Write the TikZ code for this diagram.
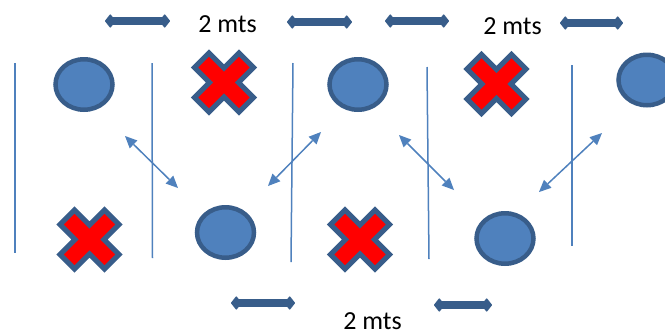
\documentclass[tikz,border=0pt]{standalone}
\usepackage{fontspec}
\setmainfont{Carlito}
\usetikzlibrary{arrows.meta,shapes.geometric}
\definecolor{cfill}{HTML}{4F81BD}
\definecolor{cdark}{HTML}{385D8A}
\definecolor{cred}{HTML}{FF0000}
\tikzset{
  disc/.style={ellipse,draw=cdark,fill=cfill,line width=4.5pt,minimum width=57pt,minimum height=50.5pt,inner sep=0pt},
  xstyle/.style={draw=cdark,fill=cred,line width=5pt,line join=miter},
  xmark/.pic={\path[xstyle] (0,-14.5) -- (15,-29.5) -- (29.5,-15) -- (14.5,0) -- (29.5,15) -- (15,29.5) -- (0,14.5) -- (-15,29.5) -- (-29.5,15) -- (-14.5,0) -- (-29.5,-15) -- (-15,-29.5) -- cycle;},
  bartip/.tip={Diamond[length=11pt,width=14pt,line width=1.5pt,round]},
  bar/.style={draw=cdark,line width=8pt,bartip-bartip},
  link/.style={draw=cfill,line width=1.5pt,{Triangle[length=12pt,width=11pt,line width=0pt]}-{Triangle[length=12pt,width=11pt,line width=0pt]}},
  divider/.style={draw=cfill,line width=1.5pt},
  lbl/.style={font=\fontsize{26}{31}\selectfont,anchor=base,inner sep=0pt}
}
\begin{document}
\begin{tikzpicture}[x=1pt,y=-1pt]
\useasboundingbox (0,0) rectangle (665,333);
\clip (0,0) rectangle (665,333);
% dividers
\coordinate (v1t) at (15,63);  \coordinate (v1b) at (15,253);
\coordinate (v2t) at (152,63); \coordinate (v2b) at (152.5,258);
\coordinate (v3t) at (293,63); \coordinate (v3b) at (291,262);
\coordinate (v4t) at (427,67); \coordinate (v4b) at (429,259);
\coordinate (v5t) at (572,65); \coordinate (v5b) at (572,246);
\foreach \i in {1,...,5} \draw[divider] (v\i t) -- (v\i b);
% circles
\node[disc] (c1) at (84,84.5) {};
\node[disc] (c2) at (358,84.5) {};
\node[disc] (c3) at (647,80) {};
\node[disc] (c4) at (225.5,232.5) {};
\node[disc] (c5) at (505,238.5) {};
% crosses
\pic (x1) at (224,82.5) {xmark};
\pic (x2) at (496.5,84) {xmark};
\pic (x3) at (89.5,239.5) {xmark};
\pic (x4) at (360,239.5) {xmark};
% distance bars
\coordinate (b1a) at (105,21);  \coordinate (b1b) at (170,21);
\coordinate (b2a) at (287,22);  \coordinate (b2b) at (352,22);
\coordinate (b3a) at (385,21);  \coordinate (b3b) at (449,21);
\coordinate (b4a) at (560,23);  \coordinate (b4b) at (623,23);
\coordinate (b5a) at (231,303); \coordinate (b5b) at (295,303);
\coordinate (b6a) at (434,305); \coordinate (b6b) at (492,305);
\foreach \i in {1,...,6} \draw[bar] (b\i a) -- (b\i b);
% labels
\node[lbl] (t1) at (227.5,32) {2 mts};
\node[lbl] (t2) at (512.5,34) {2 mts};
\node[lbl] (t3) at (372.5,329.5) {2 mts};
% movement arrows
\coordinate (a1a) at (125,136); \coordinate (a1b) at (178,188);
\coordinate (a2a) at (321,132); \coordinate (a2b) at (268,186);
\coordinate (a3a) at (399,135); \coordinate (a3b) at (454,190);
\coordinate (a4a) at (602,133); \coordinate (a4b) at (539,192);
\foreach \i in {1,...,4} \draw[link] (a\i a) -- (a\i b);
\end{tikzpicture}
\end{document}
